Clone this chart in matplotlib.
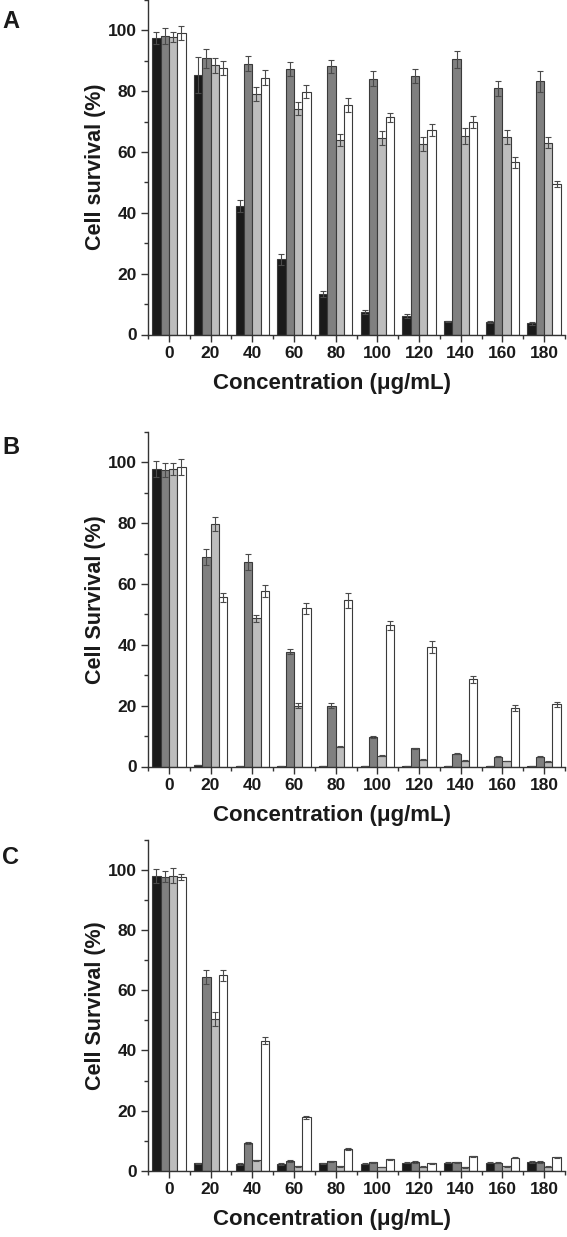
import matplotlib
matplotlib.use('Agg')
import matplotlib.pyplot as plt
import numpy as np
from matplotlib.ticker import MultipleLocator

plt.rcParams['font.family'] = ['Liberation Sans', 'DejaVu Sans']
plt.rcParams['font.weight'] = 'bold'

conc = ['0', '20', '40', '60', '80', '100', '120', '140', '160', '180']

# panel A
a_black = [97.6, 85.3, 42.2, 24.8, 13.2, 7.5, 6.1, 4.3, 4.0, 3.7]
a_black_err = [2.0, 5.8, 1.9, 1.8, 1.0, 0.7, 0.6, 0.3, 0.3, 0.5]
a_dark = [98.1, 90.8, 89.1, 87.2, 88.2, 84.1, 85.0, 90.5, 80.9, 83.2]
a_dark_err = [2.6, 3.0, 2.4, 2.3, 2.2, 2.4, 2.2, 2.7, 2.5, 3.3]
a_light = [97.8, 88.5, 79.2, 74.3, 64.0, 64.6, 62.7, 65.2, 65.0, 63.0]
a_light_err = [1.7, 2.4, 2.3, 2.2, 2.0, 2.4, 2.2, 2.7, 2.4, 1.8]
a_white = [99.3, 87.5, 84.5, 79.8, 75.5, 71.4, 67.3, 69.8, 56.6, 49.5]
a_white_err = [2.3, 2.3, 2.5, 2.1, 2.2, 1.5, 2.0, 2.0, 1.9, 1.1]

# panel B
b_black = [97.8, 0.5, 0.2, 0.1, 0.1, 0.1, 0.1, 0.1, 0.1, 0.1]
b_black_err = [2.5, 0.1, 0.0, 0.0, 0.0, 0.0, 0.0, 0.0, 0.0, 0.0]
b_dark = [97.4, 68.9, 67.3, 37.7, 20.0, 9.7, 6.0, 4.2, 3.2, 3.2]
b_dark_err = [2.3, 2.6, 2.6, 0.8, 0.8, 0.3, 0.2, 0.2, 0.2, 0.2]
b_light = [97.8, 79.8, 48.7, 20.0, 6.5, 3.5, 2.3, 1.9, 1.8, 1.6]
b_light_err = [1.9, 2.4, 1.1, 0.8, 0.2, 0.2, 0.1, 0.1, 0.1, 0.1]
b_white = [98.4, 55.6, 57.6, 52.1, 54.6, 46.4, 39.4, 28.7, 19.3, 20.4]
b_white_err = [2.6, 1.6, 2.0, 1.8, 2.4, 1.5, 2.0, 1.2, 1.0, 0.7]

# panel C
c_black = [97.8, 2.6, 2.3, 2.3, 2.5, 2.4, 2.8, 2.8, 2.8, 2.9]
c_black_err = [2.4, 0.2, 0.2, 0.2, 0.2, 0.2, 0.2, 0.2, 0.2, 0.3]
c_dark = [97.7, 64.4, 9.2, 3.3, 3.2, 2.9, 3.0, 2.9, 2.8, 3.0]
c_dark_err = [1.8, 2.2, 0.3, 0.2, 0.2, 0.2, 0.2, 0.2, 0.2, 0.2]
c_light = [98.0, 50.5, 3.6, 1.5, 1.5, 1.3, 1.4, 1.2, 1.5, 1.4]
c_light_err = [2.5, 2.3, 0.2, 0.1, 0.1, 0.1, 0.1, 0.1, 0.1, 0.1]
c_white = [97.7, 65.0, 43.3, 17.8, 7.3, 3.9, 2.5, 4.9, 4.4, 4.5]
c_white_err = [1.0, 1.8, 1.0, 0.6, 0.4, 0.2, 0.2, 0.2, 0.2, 0.2]

colors = ['#1a1a1a', '#808080', '#bdbdbd', '#ffffff']

W, H = 567, 1237
fig = plt.figure(figsize=(W / 100, H / 100), dpi=100)


def panel(top_px, zero_px, series, errs, ylabel, letter, letter_y):
    left = 148
    right = 565
    ax = fig.add_axes([left / W, (H - zero_px) / H, (right - left) / W, (zero_px - top_px) / H])
    x = np.arange(len(conc))
    width = 0.2
    for k, (vals, err) in enumerate(zip(series, errs)):
        off = (k - 1.5) * width
        ax.bar(x + off, vals, width, color=colors[k], edgecolor='#3a3a3a', linewidth=0.8, zorder=2)
        ax.errorbar(x + off, vals, yerr=err, fmt='none', ecolor='#4a4a4a',
                    elinewidth=0.8, capsize=2.5, capthick=0.8, zorder=3)
    ax.set_xlim(-0.5, 9.5)
    ax.set_ylim(0, 110)
    ax.set_xticks(x)
    ax.set_xticklabels(conc)
    ax.xaxis.set_minor_locator(MultipleLocator(1, offset=0.5))
    ax.yaxis.set_major_locator(MultipleLocator(20))
    ax.yaxis.set_minor_locator(MultipleLocator(10))
    ax.set_yticks(range(0, 101, 20))
    for s in ['top', 'right']:
        ax.spines[s].set_visible(False)
    for s in ['left', 'bottom']:
        ax.spines[s].set_color('#333333')
        ax.spines[s].set_linewidth(1.0)
    ax.tick_params(which='major', direction='out', length=5, width=1.0, color='#333333',
                   labelsize=12.5, labelcolor='#1a1a1a', pad=3)
    ax.tick_params(which='minor', direction='out', length=3, width=1.0, color='#333333')
    for lab in ax.get_xticklabels() + ax.get_yticklabels():
        lab.set_fontweight('bold')
    hpx = zero_px - top_px
    ax.set_ylabel(ylabel, fontsize=15.5, fontweight='bold', color='#1a1a1a')
    ax.yaxis.set_label_coords((106 - left) / (right - left), 0.5)
    ax.set_xlabel('Concentration (μg/mL)', fontsize=16, fontweight='bold', color='#1a1a1a')
    ax.xaxis.set_label_coords((332 - left) / (right - left), -38 / hpx)
    fig.text(2 / W, 1 - letter_y / H, letter, fontsize=17, fontweight='bold',
             color='#1a1a1a', ha='left', va='center')
    return ax


panel(0, 334.5, [a_black, a_dark, a_light, a_white],
      [a_black_err, a_dark_err, a_light_err, a_white_err], 'Cell survival (%)', 'A', 22)
panel(432, 766.5, [b_black, b_dark, b_light, b_white],
      [b_black_err, b_dark_err, b_light_err, b_white_err], 'Cell Survival (%)', 'B', 447)
panel(839.5, 1171, [c_black, c_dark, c_light, c_white],
      [c_black_err, c_dark_err, c_light_err, c_white_err], 'Cell Survival (%)', 'C', 857)

fig.savefig('out.png', dpi=100)
